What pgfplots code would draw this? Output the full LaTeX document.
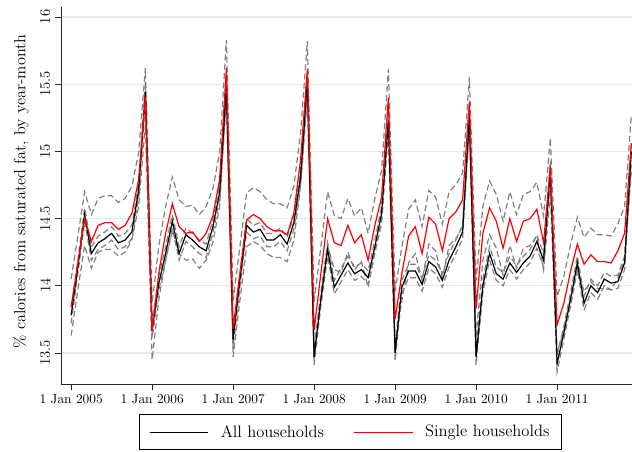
\documentclass[border=0pt]{standalone}
\usepackage{pgfplots}
\pgfplotsset{compat=1.18}
\usepackage{pgfplotstable}
\pgfplotstableread{
m all alllo allhi sing singlo singhi
0 13.78 13.72 13.84 13.84 13.63 14.05
1 14.14 14.09 14.19 14.17 13.97 14.37
2 14.53 14.48 14.58 14.50 14.30 14.70
3 14.24 14.19 14.29 14.33 14.13 14.53
4 14.32 14.27 14.37 14.45 14.25 14.65
5 14.35 14.30 14.40 14.47 14.27 14.67
6 14.39 14.34 14.44 14.47 14.27 14.67
7 14.32 14.27 14.37 14.42 14.22 14.62
8 14.34 14.29 14.39 14.45 14.25 14.65
9 14.40 14.35 14.45 14.54 14.34 14.74
10 14.71 14.66 14.76 14.79 14.59 14.99
11 15.44 15.37 15.51 15.41 15.20 15.62
12 13.67 13.61 13.73 13.66 13.45 13.87
13 14.02 13.97 14.07 14.10 13.90 14.30
14 14.24 14.19 14.29 14.39 14.19 14.59
15 14.48 14.43 14.53 14.61 14.41 14.81
16 14.24 14.19 14.29 14.44 14.24 14.64
17 14.38 14.33 14.43 14.39 14.19 14.59
18 14.34 14.29 14.39 14.40 14.20 14.60
19 14.29 14.24 14.34 14.33 14.13 14.53
20 14.26 14.21 14.31 14.39 14.19 14.59
21 14.44 14.39 14.49 14.52 14.32 14.72
22 14.69 14.64 14.74 14.79 14.59 14.99
23 15.48 15.41 15.55 15.62 15.41 15.83
24 13.60 13.54 13.66 13.68 13.47 13.89
25 14.04 13.99 14.09 14.09 13.89 14.29
26 14.45 14.40 14.50 14.49 14.29 14.69
27 14.40 14.35 14.45 14.53 14.33 14.73
28 14.42 14.37 14.47 14.50 14.30 14.70
29 14.34 14.29 14.39 14.44 14.24 14.64
30 14.34 14.29 14.39 14.41 14.21 14.61
31 14.38 14.33 14.43 14.41 14.21 14.61
32 14.31 14.26 14.36 14.38 14.18 14.58
33 14.47 14.42 14.52 14.54 14.34 14.74
34 14.81 14.76 14.86 14.94 14.74 15.14
35 15.53 15.46 15.60 15.61 15.40 15.82
36 13.47 13.41 13.53 13.67 13.46 13.88
37 13.90 13.85 13.95 14.09 13.89 14.29
38 14.27 14.22 14.32 14.50 14.30 14.70
39 13.99 13.94 14.04 14.32 14.12 14.52
40 14.08 14.03 14.13 14.30 14.10 14.50
41 14.17 14.12 14.22 14.45 14.25 14.65
42 14.09 14.04 14.14 14.32 14.12 14.52
43 14.12 14.07 14.17 14.38 14.18 14.58
44 14.06 14.01 14.11 14.19 13.99 14.39
45 14.29 14.24 14.34 14.45 14.25 14.65
46 14.54 14.49 14.59 14.66 14.46 14.86
47 15.23 15.16 15.30 15.40 15.19 15.61
48 13.50 13.44 13.56 13.75 13.54 13.96
49 13.99 13.94 14.04 14.09 13.89 14.29
50 14.11 14.06 14.16 14.37 14.17 14.57
51 14.11 14.06 14.16 14.44 14.24 14.64
52 14.01 13.96 14.06 14.24 14.04 14.44
53 14.18 14.13 14.23 14.51 14.31 14.71
54 14.14 14.09 14.19 14.46 14.26 14.66
55 14.04 13.99 14.09 14.26 14.06 14.46
56 14.19 14.14 14.24 14.50 14.30 14.70
57 14.29 14.24 14.34 14.55 14.35 14.75
58 14.40 14.35 14.45 14.64 14.44 14.84
59 15.26 15.19 15.33 15.37 15.19 15.55
60 13.47 13.41 13.53 13.83 13.62 14.04
61 14.00 13.95 14.05 14.39 14.19 14.59
62 14.24 14.19 14.29 14.58 14.38 14.78
63 14.09 14.04 14.14 14.48 14.28 14.68
64 14.05 14.00 14.10 14.28 14.08 14.48
65 14.17 14.12 14.22 14.50 14.30 14.70
66 14.10 14.05 14.15 14.33 14.13 14.53
67 14.17 14.12 14.22 14.48 14.28 14.68
68 14.22 14.17 14.27 14.50 14.30 14.70
69 14.33 14.28 14.38 14.57 14.37 14.77
70 14.19 14.14 14.24 14.32 14.12 14.52
71 14.86 14.79 14.93 14.89 14.68 15.10
72 13.42 13.36 13.48 13.71 13.50 13.92
73 13.65 13.60 13.70 13.87 13.67 14.07
74 13.90 13.85 13.95 14.11 13.91 14.31
75 14.17 14.12 14.22 14.31 14.11 14.51
76 13.87 13.82 13.92 14.16 13.96 14.36
77 14.00 13.95 14.05 14.23 14.03 14.43
78 13.95 13.90 14.00 14.18 13.98 14.38
79 14.05 14.00 14.10 14.18 13.98 14.38
80 14.02 13.97 14.07 14.17 13.97 14.37
81 14.03 13.98 14.08 14.26 14.06 14.46
82 14.17 14.12 14.22 14.39 14.19 14.59
83 15.00 14.93 15.07 15.06 14.85 15.27
}\datatable

\begin{document}
\begin{tikzpicture}
\begin{axis}[
  name=ax,
  scale only axis,
  width=428.25pt, height=282.75pt,
  xmin=-1.5, xmax=83.1,
  ymin=13.2693, ymax=16.0744,
  axis x line*=bottom, axis y line*=left,
  axis line style={line width=0.6pt, black!85},
  xtick={0,12,24,36,48,60,72},
  xticklabels={1 Jan 2005,1 Jan 2006,1 Jan 2007,1 Jan 2008,1 Jan 2009,1 Jan 2010,1 Jan 2011},
  ytick={13.5,14,14.5,15,15.5,16},
  yticklabels={13.5,14,14.5,15,15.5,16},
  tick align=outside,
  major tick length=4.5pt,
  tick style={line width=0.6pt, black!85},
  ymajorgrids,
  grid style={line width=1pt, black!9},
  x tick label style={font=\fontsize{10}{12}\selectfont},
  y tick label style={rotate=90, anchor=south, font=\fontsize{11}{13}\selectfont},
  ylabel={\% calories from saturated fat, by year-month},
  ylabel style={at={(axis description cs:-0.0700,0.511)}, anchor=center, font=\fontsize{12.2}{14}\selectfont},
  legend style={at={(axis description cs:0.507,-0.08)}, anchor=north, legend columns=2,
    draw=black, line width=0.6pt, font=\fontsize{12.4}{15}\selectfont,
    /tikz/every even column/.append style={column sep=20pt},
    /tikz/every odd column/.append style={column sep=7pt},
    inner xsep=7pt, inner ysep=6pt},
  legend image code/.code={\draw[#1] (0pt,0pt) -- (44pt,0pt);},
  legend cell align=left,
  dashci/.style={black!50, line width=0.9pt, dash pattern=on 4.5pt off 2.5pt},
]
\addplot[dashci, forget plot] table[x=m, y=alllo] {\datatable};
\addplot[dashci, forget plot] table[x=m, y=allhi] {\datatable};
\addplot[dashci, forget plot] table[x=m, y=singlo] {\datatable};
\addplot[dashci, forget plot] table[x=m, y=singhi] {\datatable};
\addplot[black, line width=0.9pt] table[x=m, y=all] {\datatable};
\addlegendentry{All households}
\addplot[red, line width=0.9pt] table[x=m, y=sing] {\datatable};
\addlegendentry{Single households}
\end{axis}
\pgfresetboundingbox
\path[use as bounding box] ([xshift=-45.75pt, yshift=-51pt]ax.south west) rectangle ([yshift=5.25pt]ax.north east);
\end{tikzpicture}
\end{document}
